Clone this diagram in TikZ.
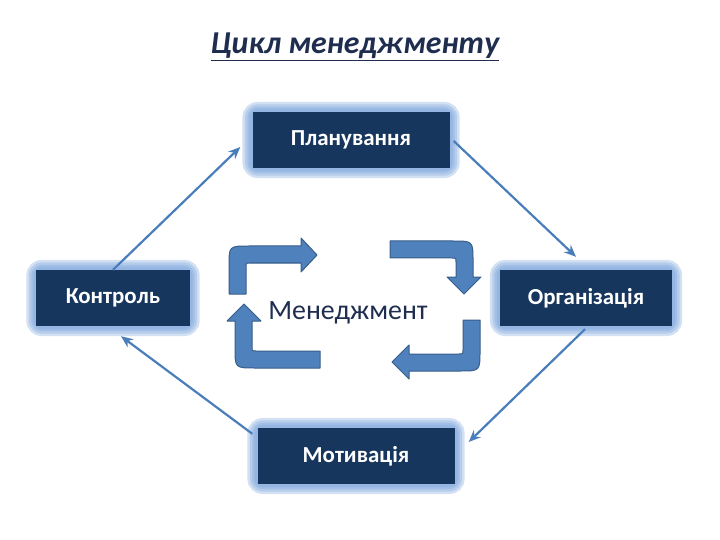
\documentclass[tikz,border=0pt]{standalone}
\usepackage{fontspec}
\setmainfont{Carlito}
\usepackage{xcolor}
\usetikzlibrary{arrows.meta, positioning, calc, backgrounds}

\definecolor{boxblue}{HTML}{17365D}
\definecolor{glowblue}{HTML}{7EA6DC}
\definecolor{linkblue}{HTML}{4A7EBB}
\definecolor{bentfill}{HTML}{4F81BD}
\definecolor{bentedge}{HTML}{385D8A}
\definecolor{titleblue}{HTML}{1F2D4F}

\begin{document}
\begin{tikzpicture}[
    x=1bp, y=-1bp,
    stage/.style = {rectangle, fill=boxblue, text=white, inner sep=0pt,
                    minimum height=56bp, font=\bfseries\fontsize{23}{26}\selectfont},
    link/.style  = {-{Stealth[length=12bp,width=10bp]}, linkblue, line width=2.2bp},
    bent/.style  = {fill=bentfill, draw=bentedge, line width=1bp, line join=round}
  ]
  \useasboundingbox (0,0) rectangle (720,540);

  % ----------------------------------------------------------------
  % Title
  % ----------------------------------------------------------------
  \node[font=\bfseries\itshape\fontsize{32}{36}\selectfont, text=titleblue]
        (title) at (355,47) {\underline{Цикл менеджменту}};

  % ----------------------------------------------------------------
  % Four stages of the cycle
  % ----------------------------------------------------------------
  \node[stage, minimum width=197bp] (plan)    at (351,140) {Планування};
  \node[stage, minimum width=153bp] (kontrol) at (113,298) {Контроль};
  \node[stage, minimum width=172bp] (org)     at (586,298) {Організація};
  \node[stage, minimum width=197bp] (motiv)   at (356,456) {Мотивація};

  % glow round every box (behind the fill)
  \begin{scope}[on background layer]
    \foreach \nm in {plan, kontrol, org, motiv}{
      \foreach \w in {20bp, 15bp, 10bp, 6bp}{
        \draw[glowblue, opacity=0.35, line width=\w, rounded corners=6bp]
              (\nm.north west) rectangle (\nm.south east);
      }
    }
  \end{scope}

  % ----------------------------------------------------------------
  % Connectors (clockwise)
  % ----------------------------------------------------------------
  \draw[link] (kontrol.north) -- ($(plan.west)+(-12,7)$);
  \draw[link] ($(plan.east)+(4,1)$) -- ($(org.north)+(-10,-13)$);
  \draw[link] ($(org.south)+(-1,3)$) -- ($(motiv.east)+(14,-14)$);
  \draw[link] ($(motiv.north west)+(-5,6)$) -- ($(kontrol.south)+(8,10)$);

  % ----------------------------------------------------------------
  % Centre: label and the four bent block arrows
  % ----------------------------------------------------------------
  \node[font=\fontsize{28}{32}\selectfont, text=titleblue] (mgmt) at (348,313) {Менеджмент};

  % top left: up, then right
  \draw[bent] (229,294) -- (229,266) .. controls (229,246) .. (249,246)
        -- (301,246) -- (301,238) -- (317,255) -- (301,272) -- (301,263)
        -- (250,263) .. controls (246,263) .. (246,267) -- (246,294) -- cycle;
  % top right: right, then down
  \draw[bent] (390,241) -- (453,241) .. controls (473,241) .. (473,261)
        -- (473,277) -- (481,277) -- (464,294) -- (447,277) -- (456,277)
        -- (456,262) .. controls (456,258) .. (452,258) -- (390,258) -- cycle;
  % bottom right: down, then left
  \draw[bent] (463,320) -- (480,320) -- (480,351) .. controls (480,371) .. (460,371)
        -- (409,371) -- (409,379) -- (392,362) -- (409,345) -- (409,354)
        -- (459,354) .. controls (463,354) .. (463,350) -- cycle;
  % bottom left: left, then up
  \draw[bent] (320,351) -- (320,368) -- (255,368) .. controls (235,368) .. (235,348)
        -- (235,321) -- (227,321) -- (244,304) -- (261,321) -- (252,321)
        -- (252,347) .. controls (252,351) .. (256,351) -- cycle;

\end{tikzpicture}
\end{document}
